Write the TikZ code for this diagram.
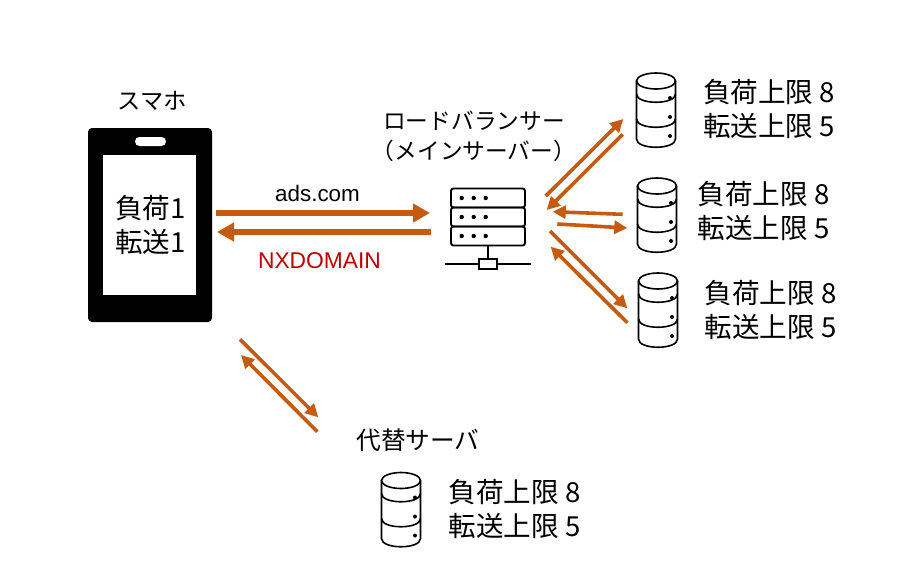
\documentclass[tikz,border=0pt]{standalone}
\usepackage{fontspec}
\setmainfont{Noto Sans CJK JP}
\newfontfamily\latinfont{Liberation Sans}
\usetikzlibrary{arrows.meta}
\definecolor{flow}{HTML}{C55A11}
\definecolor{errred}{HTML}{C00000}
\tikzset{
 dbstack/.pic={
  \draw [line width=1.6pt, fill=white] (-19.5,-29) -- (-19.5,29) .. controls (-19.5,40) and (19.5,40) .. (19.5,29) -- (19.5,-29);
  \draw [line width=1.6pt] (0,-29) ellipse [x radius=19.5, y radius=8];
  \draw [line width=1.6pt] (-19.5,-16) .. controls (-19.5,-5) and (19.5,-5) .. (19.5,-16);
  \draw [line width=1.6pt] (-19.5,9) .. controls (-19.5,20) and (19.5,20) .. (19.5,9);
  \foreach \doty in {-12,7,26} \fill (14,\doty) circle (2);
 }
}
\begin{document}
\begin{tikzpicture}[x=1pt,y=-1pt]
 \tikzstyle{limit} = [align=left, inner sep=0pt, font=\fontsize{27.6}{34}\selectfont];
 \tikzstyle{caption} = [align=center, inner sep=0pt];
 \tikzstyle{rack} = [draw, line width=1.9pt, rounded corners=2.5pt, minimum width=74pt, minimum height=19pt, inner sep=0pt];
 \tikzstyle{bigflow} = [-{Triangle[length=17pt,width=18pt]}, color=flow, line width=6.5pt];
 \tikzstyle{thinflow} = [-{Triangle[length=13pt,width=13pt]}, color=flow, line width=3.6pt];

 \useasboundingbox (0,0) rectangle (900,587);

 \node (phone) [fill=black, rounded corners=4pt, minimum width=124pt, minimum height=194pt, inner sep=0pt] at (150,225) {};
 \node (screen) [fill=white, minimum width=93pt, minimum height=140pt, inner sep=0pt] at (149.5,225) {};
 \node (speaker) [fill=white, rounded corners=4.5pt, minimum width=31pt, minimum height=9pt, inner sep=0pt] at (150.5,141.5) {};
 \node (count) [caption, font=\fontsize{27.6}{34}\selectfont] at (150.5,225) {負荷1\\転送1};
 \node (phonecap) [caption, font=\fontsize{23.3}{28}\selectfont] at (152,101) {スマホ};

 \node (lbcap) [caption, font=\fontsize{22.7}{30}\selectfont] at (474,136) {ロードバランサー\\（メインサーバー）};
 \node (rack1) [rack] at (488,198) {};
 \node (rack2) [rack] at (488,217) {};
 \node (rack3) [rack] at (488,236) {};
 \foreach \racky in {198,217,236} \foreach \rackx in {461.7,473.7,485.7} \fill (\rackx,\racky) circle (2.2);
 \node (hub) [draw, line width=1.9pt, minimum width=17.5pt, minimum height=9.5pt, inner sep=0pt] at (488,264) {};
 \coordinate (busl) at (445.3,264);
 \coordinate (busr) at (530.7,264);
 \draw [line width=1.9pt] (rack3.south) -- (hub.north);
 \draw [line width=1.9pt] (busl) -- (hub.west);
 \draw [line width=1.9pt] (hub.east) -- (busr);

 \pic (db1) at (656,110) {dbstack};
 \pic (db2) at (657,215) {dbstack};
 \pic (db3) at (658,310) {dbstack};
 \pic (db4) at (401,509.5) {dbstack};
 \node (limit1) [limit] at (769,109) {負荷上限 8\\転送上限 5};
 \node (limit2) [limit] at (763.5,211) {負荷上限 8\\転送上限 5};
 \node (limit3) [limit] at (770.5,310) {負荷上限 8\\転送上限 5};
 \node (limit4) [limit] at (514.5,509) {負荷上限 8\\転送上限 5};
 \node (altcap) [caption, font=\fontsize{24.7}{28}\selectfont] at (418,440) {代替サーバ};

 \node (query) [caption, font=\latinfont\fontsize{22.4}{26}\selectfont] at (317.5,193) {ads.com};
 \node (reply) [caption, text=errred, font=\latinfont\fontsize{22.8}{26}\selectfont] at (319.5,261) {NXDOMAIN};

 \coordinate (p1) at (216,213);   \coordinate (s1) at (430,213);
 \coordinate (s2) at (431,232);   \coordinate (p2) at (217,232);
 \coordinate (a1) at (545.7,196); \coordinate (b1) at (623.3,119);
 \coordinate (b2) at (622.7,134.3); \coordinate (a2) at (546.7,210);
 \coordinate (c1) at (622.7,214.3); \coordinate (a3) at (552.7,211.7);
 \coordinate (a4) at (557.3,224); \coordinate (c2) at (627.3,228);
 \coordinate (a5) at (550,231);   \coordinate (d1) at (627.3,308.3);
 \coordinate (d2) at (627.3,322.7); \coordinate (a6) at (550.7,246.7);
 \coordinate (e1) at (240,339.3); \coordinate (f1) at (318.3,417.3);
 \coordinate (f2) at (317.3,431.7); \coordinate (e2) at (241,355);

 \draw [bigflow] (p1) -- (s1);
 \draw [bigflow] (s2) -- (p2);
 \draw [thinflow] (a1) -- (b1);
 \draw [thinflow] (b2) -- (a2);
 \draw [thinflow] (c1) -- (a3);
 \draw [thinflow] (a4) -- (c2);
 \draw [thinflow] (a5) -- (d1);
 \draw [thinflow] (d2) -- (a6);
 \draw [thinflow] (e1) -- (f1);
 \draw [thinflow] (f2) -- (e2);
\end{tikzpicture}
\end{document}
